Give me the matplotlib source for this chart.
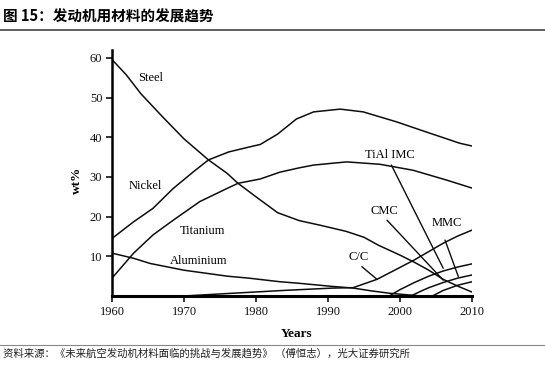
import matplotlib
matplotlib.use("Agg")
import matplotlib.pyplot as plt
from matplotlib.lines import Line2D

# values (wt% by year)
steel_years = [1960, 1962, 1964, 1967, 1970, 1973.4, 1976, 1977.5, 1980, 1983, 1986, 1989, 1992.5, 1995, 1997, 2000, 2002, 2004, 2006, 2008, 2010]
steel = [59.6, 55.7, 51.0, 45.2, 39.6, 34.3, 30.9, 28.4, 25.0, 21.0, 19.0, 17.8, 16.3, 14.8, 12.8, 10.3, 8.5, 6.5, 4.2, 2.5, 1.0]

nickel_years = [1960, 1963, 1965.7, 1968.5, 1971.3, 1973.4, 1976.2, 1978.7, 1980.6, 1983, 1985.6, 1988, 1991.7, 1994.9, 1999.5, 2004.2, 2008.3, 2010]
nickel = [14.5, 18.7, 22.1, 27.1, 31.3, 34.3, 36.3, 37.4, 38.2, 40.8, 44.6, 46.4, 47.1, 46.4, 43.9, 41.0, 38.5, 37.8]

titanium_years = [1960, 1963, 1965.7, 1968.5, 1972.2, 1976.2, 1977.5, 1980.6, 1983.3, 1986, 1988, 1992.6, 1997.2, 2001.8, 2006.5, 2010]
titanium = [4.5, 10.8, 15.4, 19.1, 23.8, 27.3, 28.4, 29.5, 31.2, 32.3, 33.0, 33.8, 33.2, 31.7, 29.2, 27.2]

aluminium_years = [1960, 1963, 1965.3, 1970, 1976, 1979, 1983.3, 1986, 1990.7, 1993.5, 1996, 1998.5, 2001, 2003]
aluminium = [10.8, 9.5, 8.2, 6.5, 5.0, 4.5, 3.6, 3.2, 2.4, 2.0, 1.3, 0.7, 0.3, 0.0]

cc_years = [1970, 1976.8, 1983.8, 1990.7, 1993.5, 1996.8, 2000, 2002, 2006, 2008, 2010]
cc = [0.0, 0.7, 1.4, 2.0, 2.1, 4.2, 7.2, 9.1, 13.3, 15.1, 16.6]

tial_years = [1998.5, 2000, 2002, 2004, 2006, 2008, 2010]
tial = [0.0, 1.6, 3.4, 5.0, 6.3, 7.3, 8.1]

cmc_years = [2001.5, 2003, 2004, 2006, 2008, 2010]
cmc = [0.0, 1.3, 2.1, 3.4, 4.5, 5.3]

mmc_years = [2004.5, 2006, 2008, 2010]
mmc = [0.0, 1.4, 2.7, 3.6]

x_ticks = [1960, 1970, 1980, 1990, 2000, 2010]
y_ticks = [10, 20, 30, 40, 50, 60]

# curve labels: (text, position) and labels with a pointer line: (text, text pos, line start, line end)
plain_labels = [("Steel", (1965.3, 55.0)), ("Nickel", (1964.6, 27.7)),
                ("Titanium", (1972.6, 16.4)), ("Aluminium", (1972.0, 8.8))]
pointer_labels = [("TiAl IMC", (1998.6, 35.6), (1998.8, 33.0), (2006.0, 7.0)),
                  ("CMC", (1997.8, 21.3), (1998.2, 19.1), (2006.0, 4.0)),
                  ("MMC", (2006.5, 18.4), (2006.25, 14.1), (2008.1, 4.9)),
                  ("C/C", (1994.3, 9.8), (1994.7, 7.4), (1996.8, 4.2))]

serif = "Liberation Serif"
cjk = ["Noto Sans CJK SC", "DejaVu Sans"]

fig = plt.figure(figsize=(5.45, 3.7), dpi=100)
ax = fig.add_axes([112/545, 1-296/370, 360/545, 246/370])

for xs, ys in [(steel_years, steel), (nickel_years, nickel), (titanium_years, titanium),
               (aluminium_years, aluminium), (cc_years, cc), (tial_years, tial),
               (cmc_years, cmc), (mmc_years, mmc)]:
    ax.plot(xs, ys, color="#0d0d0d", lw=1.1, solid_joinstyle="round")

for txt, pos in plain_labels:
    ax.text(pos[0], pos[1], txt, family=serif, fontsize=9, ha="center", va="center")
for txt, pos, p0, p1 in pointer_labels:
    ax.text(pos[0], pos[1], txt, family=serif, fontsize=9, ha="center", va="center")
    ax.annotate("", xy=p1, xytext=p0, arrowprops=dict(arrowstyle="-", lw=1.0, color="#0d0d0d",
                                                     shrinkA=0, shrinkB=0))

ax.set_xlim(1960, 2010)
ax.set_ylim(0, 62)
ax.set_xticks(x_ticks)
ax.set_yticks(y_ticks)
ax.set_xticklabels([str(v) for v in x_ticks], family=serif, fontsize=9)
ax.set_yticklabels([str(v) for v in y_ticks], family=serif, fontsize=9)
ax.tick_params(direction="out", length=4, width=1.2, pad=3, colors="#111111")
for s in ["top", "right"]:
    ax.spines[s].set_visible(False)
ax.spines["left"].set_linewidth(1.8)
ax.spines["bottom"].set_linewidth(2.2)
ax.patch.set_alpha(0)

fig.text(77/545, 1-180/370, "wt%", family=serif, fontsize=9.5, weight="bold",
         rotation=90, ha="center", va="center")
fig.text(297/545, 1-334/370, "Years", family=serif, fontsize=9.5, weight="bold",
         ha="center", va="center")

# title, rules and source
fig.text(3/545, 1-17/370, "图 15：发动机用材料的发展趋势", family=cjk, fontsize=10.5,
         weight="bold", ha="left", va="center")
fig.add_artist(Line2D([0, 1], [1-29.5/370, 1-29.5/370], color="#444444", lw=1.2))
fig.add_artist(Line2D([0, 1], [1-345/370, 1-345/370], color="#888888", lw=0.8))
fig.text(3/545, 1-353.5/370, "资料来源：《未来航空发动机材料面临的挑战与发展趋势》 （傅恒志），光大证券研究所",
         family=cjk, fontsize=7.5, ha="left", va="center", color="#222222")

fig.savefig("out.png", dpi=100)
